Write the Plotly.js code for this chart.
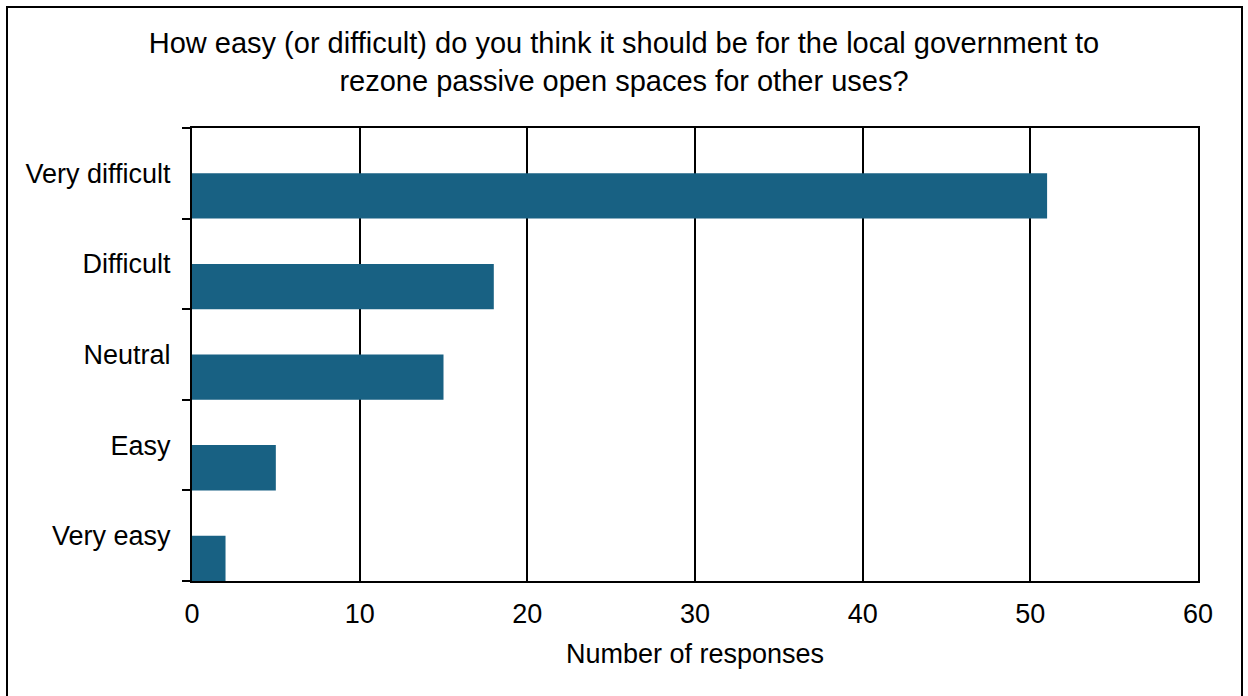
<!DOCTYPE html>
<html>
<head>
<meta charset="utf-8">
<script src="https://cdn.plot.ly/plotly-3.0.1.min.js"></script>
<style>
  html, body { margin: 0; padding: 0; background: #fff; overflow: hidden; }
  #chart { width: 1248px; height: 696px; position: absolute; left: 0; top: 0; }
  #frame { position: absolute; left: 6px; top: 6px; width: 1233px; height: 720px; border: 2px solid #000; pointer-events: none; }
</style>
</head>
<body>
<div id="chart"></div>
<div id="frame"></div>
<script>
// Data (bottom to top as drawn)
const categories = ["Very easy", "Easy", "Neutral", "Difficult", "Very difficult"];
const responses = [2, 5, 15, 18, 51];
const titleLines = ["How easy (or difficult) do you think it should be for the local government to", "rezone passive open spaces for other uses?"];
const xTitle = "Number of responses";

const font = "Arial, 'Liberation Sans', sans-serif";

const trace = {
  type: "bar",
  orientation: "h",
  y: categories,
  x: responses,
  width: 0.5,
  offset: -0.5,
  marker: { color: "#186183", line: { width: 0 } },
  hoverinfo: "x+y"
};

const layout = {
  width: 1248,
  height: 696,
  margin: { l: 192, r: 50, t: 128, b: 115 },
  paper_bgcolor: "#ffffff",
  plot_bgcolor: "#ffffff",
  font: { family: font, size: 27, color: "#000" },
  showlegend: false,
  title: {
    text: titleLines.join("<br>"),
    font: { family: font, size: 29, color: "#000" },
    x: 0.5,
    xref: "container",
    xanchor: "center",
    y: 1 - 53 / 696,
    yref: "container",
    yanchor: "middle"
  },
  xaxis: {
    range: [0, 60],
    dtick: 10,
    tick0: 0,
    showgrid: true,
    gridcolor: "#000",
    gridwidth: 2,
    zeroline: false,
    showline: true,
    linecolor: "#000",
    linewidth: 2,
    mirror: true,
    ticks: "outside",
    ticklen: 8,
    tickcolor: "rgba(0,0,0,0)",
    tickfont: { family: font, size: 27, color: "#000" },
    title: { text: xTitle, font: { family: font, size: 27, color: "#000" }, standoff: 16 },
    fixedrange: true
  },
  yaxis: {
    type: "category",
    categoryorder: "array",
    categoryarray: categories,
    range: [-0.5, 4.5],
    showgrid: false,
    zeroline: false,
    showline: true,
    linecolor: "#000",
    linewidth: 2,
    mirror: true,
    ticks: "outside",
    tickson: "boundaries",
    ticklen: 8,
    tickwidth: 2,
    tickcolor: "#000",
    ticklabelstandoff: 14,
    tickfont: { family: font, size: 27, color: "#000" },
    fixedrange: true
  }
};

Plotly.newPlot("chart", [trace], layout, { displayModeBar: false, staticPlot: true });
</script>
</body>
</html>
